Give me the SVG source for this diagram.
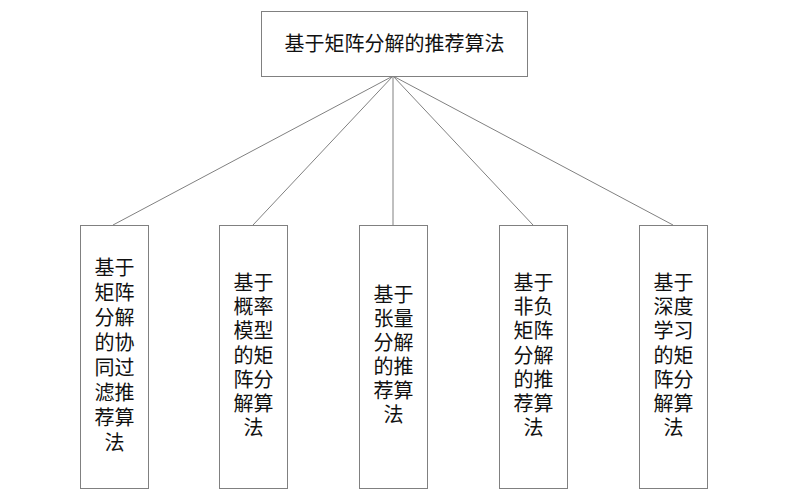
<svg xmlns="http://www.w3.org/2000/svg" width="791" height="496" viewBox="0 0 791 496">
<style>
.box{fill:#fff;stroke:#808080;stroke-width:1}
.ln{stroke:#808080;stroke-width:1;fill:none}
.t{font-family:"Liberation Sans","Noto Sans CJK SC",sans-serif;font-size:20px;fill:#111;text-anchor:middle;dominant-baseline:central}
</style>
<rect width="791" height="496" fill="#fff"/>
<g id="connectors">
<line class="ln" x1="393" y1="76" x2="113" y2="225"/>
<line class="ln" x1="393" y1="76" x2="253" y2="225"/>
<line class="ln" x1="393" y1="76" x2="393" y2="225"/>
<line class="ln" x1="393" y1="76" x2="533" y2="225"/>
<line class="ln" x1="393" y1="76" x2="673" y2="225"/>
</g>
<g id="root">
<rect class="box" x="261.5" y="11.5" width="266" height="65"/>
<text class="t" x="394.5" y="44">基于矩阵分解的推荐算法</text>
</g>
<g id="n1">
<rect class="box" x="80.5" y="225.5" width="68" height="263"/>
<text class="t" y="268"><tspan x="114.5">基于</tspan><tspan x="114.5" dy="25">矩阵</tspan><tspan x="114.5" dy="25">分解</tspan><tspan x="114.5" dy="25">的协</tspan><tspan x="114.5" dy="25">同过</tspan><tspan x="114.5" dy="25">滤推</tspan><tspan x="114.5" dy="25">荐算</tspan><tspan x="114.5" dy="25">法</tspan></text>
</g>
<g id="n2">
<rect class="box" x="219.5" y="225.5" width="68" height="263"/>
<text class="t" y="283"><tspan x="253.5">基于</tspan><tspan x="253.5" dy="24.2">概率</tspan><tspan x="253.5" dy="24.2">模型</tspan><tspan x="253.5" dy="24.2">的矩</tspan><tspan x="253.5" dy="24.2">阵分</tspan><tspan x="253.5" dy="24.2">解算</tspan><tspan x="253.5" dy="24.2">法</tspan></text>
</g>
<g id="n3">
<rect class="box" x="359.5" y="225.5" width="68" height="263"/>
<text class="t" y="295"><tspan x="393.5">基于</tspan><tspan x="393.5" dy="24">张量</tspan><tspan x="393.5" dy="24">分解</tspan><tspan x="393.5" dy="24">的推</tspan><tspan x="393.5" dy="24">荐算</tspan><tspan x="393.5" dy="24">法</tspan></text>
</g>
<g id="n4">
<rect class="box" x="499.5" y="225.5" width="68" height="263"/>
<text class="t" y="283"><tspan x="533.5">基于</tspan><tspan x="533.5" dy="24.2">非负</tspan><tspan x="533.5" dy="24.2">矩阵</tspan><tspan x="533.5" dy="24.2">分解</tspan><tspan x="533.5" dy="24.2">的推</tspan><tspan x="533.5" dy="24.2">荐算</tspan><tspan x="533.5" dy="24.2">法</tspan></text>
</g>
<g id="n5">
<rect class="box" x="639.5" y="225.5" width="68" height="263"/>
<text class="t" y="283"><tspan x="673.5">基于</tspan><tspan x="673.5" dy="24.2">深度</tspan><tspan x="673.5" dy="24.2">学习</tspan><tspan x="673.5" dy="24.2">的矩</tspan><tspan x="673.5" dy="24.2">阵分</tspan><tspan x="673.5" dy="24.2">解算</tspan><tspan x="673.5" dy="24.2">法</tspan></text>
</g>
</svg>
